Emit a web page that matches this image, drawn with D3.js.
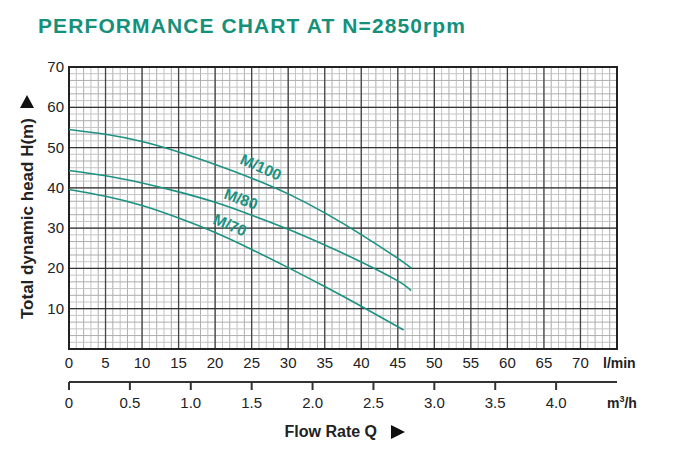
<!DOCTYPE html>
<html>
<head>
<meta charset="utf-8">
<script src="https://cdn.jsdelivr.net/npm/d3@7"></script>
<style>
  body { margin: 0; background: #fff; }
  svg { display: block; font-family: "Liberation Sans", Arial, sans-serif; }
</style>
</head>
<body>
<svg id="chart" width="680" height="459"></svg>
<script>
// flow in l/min, head in m
var flowM100 = [0, 5, 10, 15, 20, 25, 30, 35, 40, 45, 46.9];
var headM100 = [54.5, 53.3, 51.5, 48.9, 45.8, 42.4, 38.5, 33.8, 28.4, 22.5, 20.0];

var flowM80 = [0, 5, 10, 15, 20, 25, 30, 35, 40, 45, 46.8];
var headM80 = [44.3, 43.0, 41.2, 39.0, 36.4, 33.2, 29.7, 25.8, 21.6, 16.9, 14.5];

var flowM70 = [0, 5, 10, 15, 20, 25, 30, 35, 40, 45.8];
var headM70 = [39.6, 37.9, 35.6, 32.5, 28.9, 24.7, 20.2, 15.5, 10.6, 4.7];

var models = ["M/100", "M/80", "M/70"];

var lminTicks = [0, 5, 10, 15, 20, 25, 30, 35, 40, 45, 50, 55, 60, 65, 70];
var m3hTicks = [0, 0.5, 1.0, 1.5, 2.0, 2.5, 3.0, 3.5, 4.0];
var headTicks = [10, 20, 30, 40, 50, 60, 70];

var teal = "#1b9282";

var svg = d3.select("#chart");

var x = d3.scaleLinear().domain([0, 75]).range([69, 617]);
var y = d3.scaleLinear().domain([0, 70]).range([349, 67]);
// m3/h axis shares the flow axis: 1 m3/h = 1000/60 l/min
var xm = d3.scaleLinear().domain([0, 75 * 0.06]).range([69, 617]);

// title
svg.append("text")
    .attr("x", 38)
    .attr("y", 33)
    .attr("fill", "#15907a")
    .attr("font-size", 21)
    .attr("font-weight", "bold")
    .attr("letter-spacing", 1.1)
    .text("PERFORMANCE CHART AT N=2850rpm");

// grid
var grid = svg.append("g");
var minorX = d3.range(0, 75.01, 1);
var minorY = d3.range(0, 70.01, 10 / 6);

grid.selectAll(".mx").data(minorX).enter().append("line")
    .attr("x1", function(d) { return x(d); })
    .attr("x2", function(d) { return x(d); })
    .attr("y1", y(70)).attr("y2", y(0))
    .attr("stroke", function(d, i) { return i % 2 ? "#c4c4c4" : "#adadad"; })
    .attr("stroke-width", 1);

grid.selectAll(".my").data(minorY).enter().append("line")
    .attr("x1", x(0)).attr("x2", x(75))
    .attr("y1", function(d) { return y(d); })
    .attr("y2", function(d) { return y(d); })
    .attr("stroke", function(d, i) { return i % 2 ? "#c4c4c4" : "#adadad"; })
    .attr("stroke-width", 1);

grid.selectAll(".Mx").data(d3.range(5, 75, 5)).enter().append("line")
    .attr("x1", function(d) { return x(d); })
    .attr("x2", function(d) { return x(d); })
    .attr("y1", y(70)).attr("y2", y(0))
    .attr("stroke", "#444").attr("stroke-width", 1.3);

grid.selectAll(".My").data(d3.range(10, 70, 10)).enter().append("line")
    .attr("x1", x(0)).attr("x2", x(75))
    .attr("y1", function(d) { return y(d); })
    .attr("y2", function(d) { return y(d); })
    .attr("stroke", "#333").attr("stroke-width", 1.3);

svg.append("rect")
    .attr("x", x(0)).attr("y", y(70))
    .attr("width", x(75) - x(0)).attr("height", y(0) - y(70))
    .attr("fill", "none").attr("stroke", "#222").attr("stroke-width", 2);

// y tick labels
svg.selectAll(".yt").data(headTicks).enter().append("text")
    .attr("x", 64)
    .attr("y", function(d) { return y(d) + 5; })
    .attr("text-anchor", "end")
    .attr("font-size", 15)
    .attr("fill", "#222")
    .text(function(d) { return d; });

// l/min tick labels
svg.selectAll(".xt").data(lminTicks).enter().append("text")
    .attr("x", function(d) { return x(d); })
    .attr("y", 368)
    .attr("text-anchor", "middle")
    .attr("font-size", 15)
    .attr("fill", "#222")
    .text(function(d) { return d; });

svg.append("text")
    .attr("x", 603).attr("y", 368)
    .attr("font-size", 14).attr("font-weight", "bold").attr("fill", "#222")
    .text("l/min");

// m3/h axis below
var ax2 = svg.append("g").attr("transform", "translate(0,382)");
ax2.append("line")
    .attr("x1", x(0)).attr("x2", x(75))
    .attr("stroke", "#333").attr("stroke-width", 2);
ax2.selectAll(".tk").data(m3hTicks).enter().append("line")
    .attr("x1", function(d) { return xm(d); })
    .attr("x2", function(d) { return xm(d); })
    .attr("y1", 0).attr("y2", 8)
    .attr("stroke", "#333").attr("stroke-width", 2);

svg.selectAll(".mt").data(m3hTicks).enter().append("text")
    .attr("x", function(d) { return xm(d); })
    .attr("y", 408)
    .attr("text-anchor", "middle")
    .attr("font-size", 15)
    .attr("fill", "#222")
    .text(function(d) { return d === 0 ? "0" : d.toFixed(1); });

var unit = svg.append("text")
    .attr("x", 607).attr("y", 408)
    .attr("font-size", 14).attr("font-weight", "bold").attr("fill", "#222");
unit.append("tspan").text("m");
unit.append("tspan").attr("font-size", 9).attr("dy", -6).text("3");
unit.append("tspan").attr("dy", 6).text("/h");

// x title
svg.append("text")
    .attr("x", 377).attr("y", 437)
    .attr("text-anchor", "end")
    .attr("font-size", 16).attr("font-weight", "bold").attr("fill", "#222")
    .text("Flow Rate Q");
svg.append("path")
    .attr("d", "M391,425L405,432L391,439Z")
    .attr("fill", "#111");

// y title
svg.append("text")
    .attr("transform", "translate(33,319) rotate(-90)")
    .attr("font-size", 17).attr("font-weight", "bold").attr("fill", "#222")
    .text("Total dynamic head H(m)");
svg.append("path")
    .attr("d", "M20,108L27,95L34,108Z")
    .attr("fill", "#111");

// curves
var series = [
  {name: models[0], flow: flowM100, head: headM100, lx: 261, ly: 167, rot: 24},
  {name: models[1], flow: flowM80, head: headM80, lx: 241, ly: 199, rot: 20},
  {name: models[2], flow: flowM70, head: headM70, lx: 230, ly: 225, rot: 23}
];

var line = d3.line()
    .x(function(d) { return x(d[0]); })
    .y(function(d) { return y(d[1]); })
    .curve(d3.curveNatural);

series.forEach(function(s) {
  var pts = s.flow.map(function(f, i) { return [f, s.head[i]]; });
  svg.append("path")
      .datum(pts)
      .attr("d", line)
      .attr("fill", "none")
      .attr("stroke", teal)
      .attr("stroke-width", 1.6);
  svg.append("text")
      .attr("transform", "translate(" + s.lx + "," + s.ly + ") rotate(" + s.rot + ")")
      .attr("text-anchor", "middle")
      .attr("dy", "0.35em")
      .attr("font-size", 15.5)
      .attr("font-weight", "bold")
      .attr("fill", teal)
      .text(s.name);
});
</script>
</body>
</html>
